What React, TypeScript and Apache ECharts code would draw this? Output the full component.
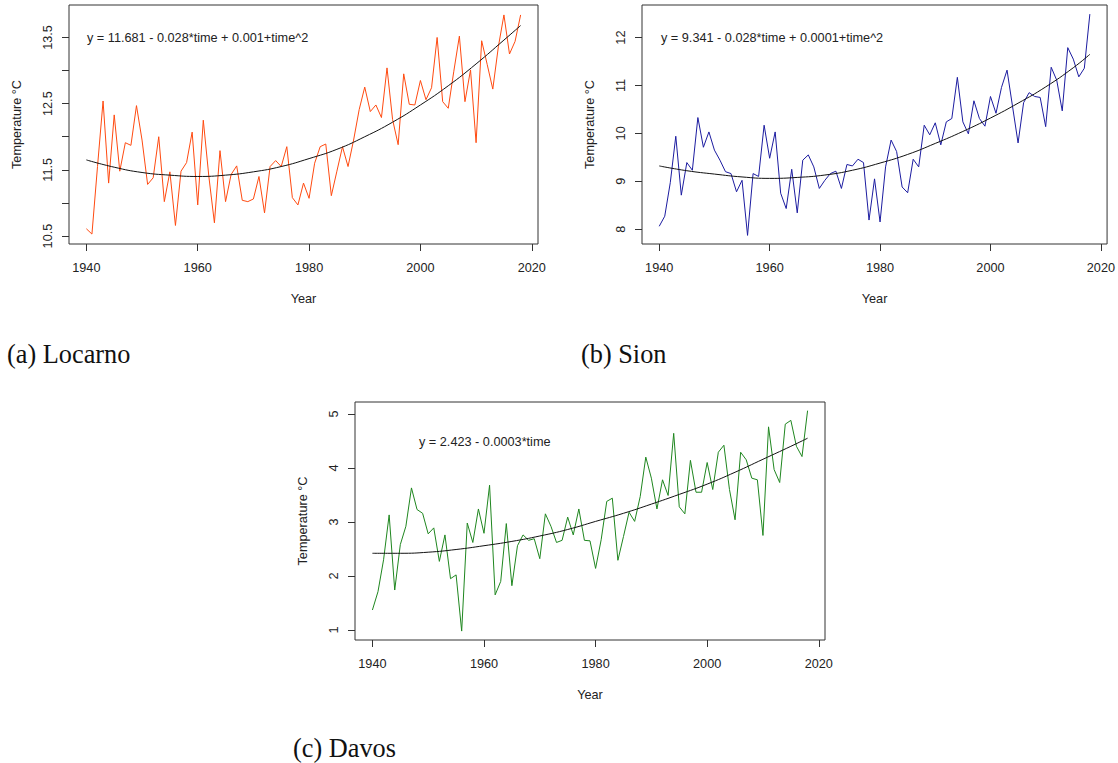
import React, { useEffect, useRef } from "react";
import * as echarts from "echarts";

const firstYear = 1940;
const lastYear = 2018;
const years: number[] = [];
for (let y = firstYear; y <= lastYear; y++) years.push(y);

const xTicks = [1940, 1960, 1980, 2000, 2020];

const locarno = [
  10.61, 10.53, 11.55, 12.54, 11.30, 12.33, 11.48, 11.91, 11.87, 12.47,
  11.95, 11.28, 11.38, 12.00, 11.02, 11.47, 10.66, 11.48, 11.61, 12.07,
  10.97, 12.25, 11.40, 10.70, 11.79, 11.02, 11.43, 11.56, 11.04, 11.02,
  11.06, 11.40, 10.85, 11.55, 11.64, 11.55, 11.85, 11.08, 10.97, 11.30,
  11.07, 11.60, 11.85, 11.89, 11.11, 11.48, 11.85, 11.55, 11.95, 12.41,
  12.75, 12.38, 12.48, 12.29, 13.04, 12.26, 11.88, 12.95, 12.49, 12.48,
  12.85, 12.56, 12.74, 13.50, 12.53, 12.43, 12.99, 13.52, 12.53, 13.01,
  11.91, 13.45, 13.09, 12.72, 13.36, 13.84, 13.25, 13.44, 13.84,
];

const sion = [
  8.06, 8.27, 8.97, 9.94, 8.71, 9.39, 9.23, 10.33, 9.71, 10.03,
  9.65, 9.44, 9.20, 9.16, 8.78, 9.02, 7.87, 9.16, 9.10, 10.17,
  9.48, 10.03, 8.75, 8.43, 9.25, 8.34, 9.44, 9.55, 9.30, 8.85,
  9.02, 9.16, 9.21, 8.85, 9.35, 9.32, 9.46, 9.39, 8.19, 9.05,
  8.15, 9.30, 9.86, 9.62, 8.88, 8.76, 9.46, 9.30, 10.17, 9.97,
  10.22, 9.76, 10.24, 10.31, 11.17, 10.24, 9.99, 10.68, 10.31, 10.15,
  10.77, 10.42, 10.96, 11.32, 10.56, 9.80, 10.64, 10.85, 10.77, 10.75,
  10.14, 11.38, 11.11, 10.47, 11.79, 11.55, 11.18, 11.36, 12.49,
];

const davos = [
  1.37, 1.71, 2.30, 3.13, 1.74, 2.58, 2.92, 3.63, 3.23, 3.16,
  2.78, 2.89, 2.27, 2.76, 1.95, 2.02, 0.98, 2.98, 2.62, 3.24,
  2.79, 3.68, 1.65, 1.90, 2.97, 1.82, 2.56, 2.76, 2.66, 2.69,
  2.32, 3.15, 2.92, 2.62, 2.66, 3.09, 2.76, 3.24, 2.66, 2.65,
  2.14, 2.67, 3.38, 3.44, 2.29, 2.73, 3.18, 3.01, 3.47, 4.20,
  3.81, 3.24, 3.78, 3.49, 4.64, 3.28, 3.15, 4.14, 3.55, 3.55,
  4.10, 3.60, 4.29, 4.42, 3.60, 3.04, 4.29, 4.15, 3.81, 3.78,
  2.75, 4.76, 3.97, 3.73, 4.81, 4.88, 4.40, 4.21, 5.06,
];

const trendYears = [1940, 1945, 1950, 1955, 1960, 1965, 1970, 1975, 1980, 1985, 1990, 1995, 2000, 2005, 2010, 2015, 2018];
const locarnoTrend = [11.65, 11.54, 11.46, 11.42, 11.40, 11.42, 11.47, 11.55, 11.67, 11.81, 12.00, 12.22, 12.48, 12.77, 13.10, 13.46, 13.68];
const sionTrend = [9.32, 9.22, 9.15, 9.09, 9.06, 9.08, 9.13, 9.23, 9.38, 9.56, 9.79, 10.04, 10.32, 10.63, 10.97, 11.37, 11.65];
const davosTrend = [2.42, 2.42, 2.44, 2.49, 2.56, 2.64, 2.74, 2.86, 3.01, 3.16, 3.33, 3.51, 3.70, 3.92, 4.16, 4.40, 4.55];

const locarnoYTicks = [10.5, 11, 11.5, 12, 12.5, 13, 13.5];
const locarnoYLabels = [10.5, 11.5, 12.5, 13.5];
const sionYTicks = [8, 9, 10, 11, 12];
const davosYTicks = [1, 2, 3, 4, 5];

const equations = [
  "y = 11.681 - 0.028*time + 0.001+time^2",
  "y = 9.341 - 0.028*time + 0.0001+time^2",
  "y = 2.423 - 0.0003*time",
];
const captions = ["(a) Locarno", "(b) Sion", "(c) Davos"];
const lineColors = ["#ff4a10", "#1c1ca0", "#1f861f"];

const FONT = "'Liberation Sans', Arial, sans-serif";
const FS = 12.7;
const TXT = "#222";

function pairs(xs: number[], ys: number[]) {
  return xs.map((x, i) => [x, ys[i]]);
}

export default function App() {
  const ref = useRef<HTMLDivElement>(null);
  useEffect(() => {
    if (!ref.current) return;
    const chart = echarts.init(ref.current, undefined, { renderer: "svg" });
    const grids = [
      { left: 69, top: 5, width: 469, height: 239 },
      { left: 642, top: 5, width: 469, height: 239 },
      { left: 355, top: 402, width: 470, height: 238 },
    ];
    const yRanges = [
      [10.38, 13.99],
      [7.69, 12.68],
      [0.815, 5.22],
    ];
    const yTickSets = [locarnoYTicks, sionYTicks, davosYTicks];
    const yLabelSets = [locarnoYLabels, sionYTicks, davosYTicks];
    const dataSets = [locarno, sion, davos];
    const trendSets = [locarnoTrend, sionTrend, davosTrend];

    const xAxis = grids.map((_, i) => ({
      type: "value",
      gridIndex: i,
      min: 1936.88,
      max: 2021.12,
      splitLine: { show: false },
      axisLine: { show: false },
      axisTick: { show: true, length: 7, lineStyle: { color: "#333", width: 1 }, customValues: xTicks },
      axisLabel: {
        customValues: xTicks,
        margin: 17,
        fontSize: FS,
        color: TXT,
        fontFamily: FONT,
        formatter: (v: number) => String(Math.round(v)),
      },
      name: "Year",
      nameLocation: "middle",
      nameGap: 48,
      nameTextStyle: { fontSize: FS, color: TXT, fontFamily: FONT },
    }));
    const yAxis = grids.map((_, i) => ({
      type: "value",
      gridIndex: i,
      min: yRanges[i][0],
      max: yRanges[i][1],
      splitLine: { show: false },
      axisLine: { show: false },
      axisTick: { show: true, length: 7, lineStyle: { color: "#333", width: 1 }, customValues: yTickSets[i] },
      axisLabel: {
        customValues: yLabelSets[i],
        rotate: 90,
        margin: 15,
        fontSize: FS,
        color: TXT,
        fontFamily: FONT,
        formatter: (v: number) => (i === 0 ? v.toFixed(1) : String(v)),
      },
      name: "Temperature °C",
      nameLocation: "middle",
      nameGap: 46,
      nameTextStyle: { fontSize: FS, color: TXT, fontFamily: FONT },
    }));
    const series: any[] = [];
    for (let i = 0; i < 3; i++) {
      series.push({
        type: "line",
        xAxisIndex: i,
        yAxisIndex: i,
        data: pairs(years, dataSets[i]),
        showSymbol: false,
        symbol: "none",
        lineStyle: { color: lineColors[i], width: 1 },
        z: 2,
      });
      series.push({
        type: "line",
        xAxisIndex: i,
        yAxisIndex: i,
        data: pairs(trendYears, trendSets[i]),
        showSymbol: false,
        symbol: "none",
        smooth: true,
        lineStyle: { color: "#111", width: 1 },
        z: 3,
      });
    }
    const eqPos = [
      [87, 38],
      [661, 38],
      [419, 442],
    ];
    const capPos = [
      [7, 354],
      [581, 354],
      [293, 748],
    ];
    const graphic: any[] = [];
    for (let i = 0; i < 3; i++) {
      graphic.push({
        type: "text",
        x: eqPos[i][0],
        y: eqPos[i][1],
        style: {
          text: equations[i],
          fill: TXT,
          font: `${FS}px ${FONT}`,
          align: "left",
          verticalAlign: "middle",
          textAlign: "left",
          textVerticalAlign: "middle",
        },
      });
      graphic.push({
        type: "text",
        x: capPos[i][0],
        y: capPos[i][1],
        style: {
          text: captions[i],
          fill: "#111",
          font: `26.3px 'Liberation Serif', 'Times New Roman', serif`,
          align: "left",
          verticalAlign: "middle",
          textAlign: "left",
          textVerticalAlign: "middle",
        },
      });
    }
    chart.setOption({
      animation: false,
      backgroundColor: "#fff",
      grid: grids.map((g) => ({ ...g, show: true, borderColor: "#333", borderWidth: 1, backgroundColor: "transparent", containLabel: false })),
      xAxis,
      yAxis,
      series,
      graphic,
    });
    return () => chart.dispose();
  }, []);
  return <div ref={ref} style={{ position: "absolute", left: 0, top: 0, width: 1118, height: 763 }} />;
}
